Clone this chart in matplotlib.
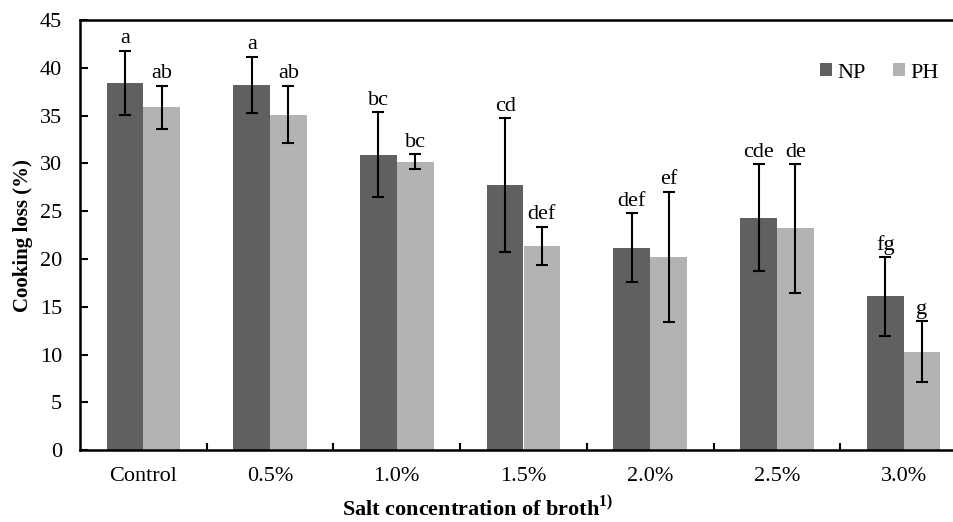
import matplotlib
matplotlib.use("Agg")
import matplotlib.pyplot as plt
import numpy as np

categories = ["Control", "0.5%", "1.0%", "1.5%", "2.0%", "2.5%", "3.0%"]
np_vals = [38.45, 38.2, 30.9, 27.7, 21.2, 24.3, 16.1]
np_err = [3.35, 2.95, 4.45, 7.0, 3.6, 5.6, 4.1]
ph_vals = [35.9, 35.1, 30.2, 21.4, 20.2, 23.2, 10.3]
ph_err = [2.25, 3.0, 0.75, 2.0, 6.8, 6.7, 3.2]
np_letters = ["a", "a", "bc", "cd", "def", "cde", "fg"]
ph_letters = ["ab", "ab", "bc", "def", "ef", "de", "g"]
yticks = [0, 5, 10, 15, 20, 25, 30, 35, 40, 45]

plt.rcParams['font.family'] = ['Liberation Serif', 'DejaVu Serif']
plt.rcParams['mathtext.fontset'] = 'custom'
plt.rcParams['mathtext.rm'] = 'Liberation Serif'
plt.rcParams['mathtext.bf'] = 'Liberation Serif:bold'

W, H = 954, 522
fig = plt.figure(figsize=(W / 100, H / 100), dpi=100)
ax = fig.add_axes([80 / W, (H - 450.3) / H, 887 / W, 430.3 / H])

x = np.arange(len(categories))
bw = 0.29
c_np = "#606060"
c_ph = "#b3b3b3"
ekw = dict(elinewidth=1.5, capthick=1.5, ecolor="black")
ax.bar(x - bw / 2, np_vals, bw, color=c_np, yerr=np_err, capsize=4, error_kw=ekw, label="NP", zorder=2)
ax.bar(x + bw / 2, ph_vals, bw, color=c_ph, yerr=ph_err, capsize=4, error_kw=ekw, label="PH", zorder=2)

for i in range(len(categories)):
    ax.annotate(np_letters[i], (x[i] - bw / 2, np_vals[i] + np_err[i]), xytext=(0, 5.5),
                textcoords="offset points", ha="center", va="baseline", fontsize=16)
    ax.annotate(ph_letters[i], (x[i] + bw / 2, ph_vals[i] + ph_err[i]), xytext=(0, 5.5),
                textcoords="offset points", ha="center", va="baseline", fontsize=16)

ax.set_xlim(-0.5, len(categories) - 0.5)
ax.set_ylim(0, 45)
ax.set_yticks(yticks)
ax.set_xticks(x)
ax.set_xticklabels(categories)
ax.set_xticks(np.arange(0.5, len(categories) - 0.5, 1), minor=True)
ax.tick_params(axis="x", which="major", length=0, pad=12, labelsize=16)
ax.tick_params(axis="x", which="minor", direction="in", length=5, width=1.5)
ax.tick_params(axis="y", direction="in", length=6, width=1.5, pad=13, labelsize=16)
for s in ax.spines.values():
    s.set_linewidth(1.8)

ax.set_ylabel("Cooking loss (%)", fontsize=15, fontweight="bold", labelpad=5)
ax.set_xlabel(r"Salt concentration of broth$^{\mathbf{1)}}$", fontsize=16, fontweight="bold")
ax.xaxis.set_label_coords((477 - 80) / 887, -(508 - 450.3) / 430.3)
ax.xaxis.label.set_va("center")

leg = ax.legend(loc="upper left", bbox_to_anchor=((820 - 80) / 887, 0.9), ncol=2, frameon=False,
                fontsize=16, handlelength=0.55, handleheight=0.55, handletextpad=0.25,
                columnspacing=1.2, borderaxespad=0, borderpad=0)

fig.savefig("out.png", dpi=100)
